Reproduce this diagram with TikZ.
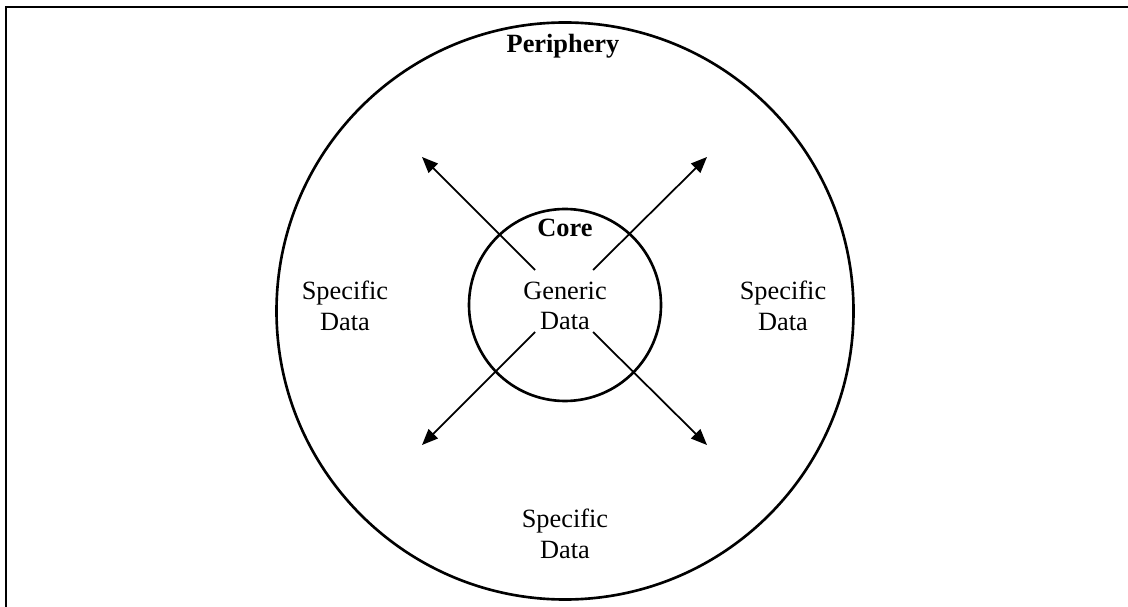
\documentclass[tikz,border=0pt]{standalone}
\usepackage{fontspec}
\setmainfont{Liberation Serif}
\usetikzlibrary{arrows.meta}

\tikzset{
    label/.style={align=center, font=\fontsize{15}{17.5}\selectfont},
    title/.style={font=\fontsize{15}{17.5}\selectfont\bfseries},
    spoke/.style={-{Triangle[length=0.32cm,width=0.26cm]}, line width=1pt},
}

\begin{document}
\begin{tikzpicture}[x=0.02cm, y=-0.02cm]
    \useasboundingbox (0,0) rectangle (1128,607);
    % frame
    \draw[line width=1.3pt] (6,607) -- (6,7) -- (1128,7);
    % circles
    \node[draw, circle, line width=1.5pt, minimum size=577*0.02cm, inner sep=0pt] (periphery) at (565,311) {};
    \node[draw, circle, line width=1.5pt, minimum size=192*0.02cm, inner sep=0pt] (core) at (565,305) {};
    % texts
    \node[title] (periphlabel) at (563,46) {Periphery};
    \node[title] (corelabel) at (565,228) {Core};
    \node[label] (generic) at (565,306) {Generic\\Data};
    \node[label] (left) at (345,306) {Specific\\Data};
    \node[label] (right) at (783,306) {Specific\\Data};
    \node[label] (bottom) at (565,534) {Specific\\Data};
    % arrows
    \coordinate (nwS) at (535,270);
    \coordinate (neS) at (593,270);
    \coordinate (swS) at (535,332);
    \coordinate (seS) at (593,332);
    \coordinate (nwT) at (422,157);
    \coordinate (neT) at (707,157);
    \coordinate (swT) at (422,445);
    \coordinate (seT) at (707,445);
    \draw[spoke] (nwS) -- (nwT);
    \draw[spoke] (neS) -- (neT);
    \draw[spoke] (swS) -- (swT);
    \draw[spoke] (seS) -- (seT);
\end{tikzpicture}
\end{document}
